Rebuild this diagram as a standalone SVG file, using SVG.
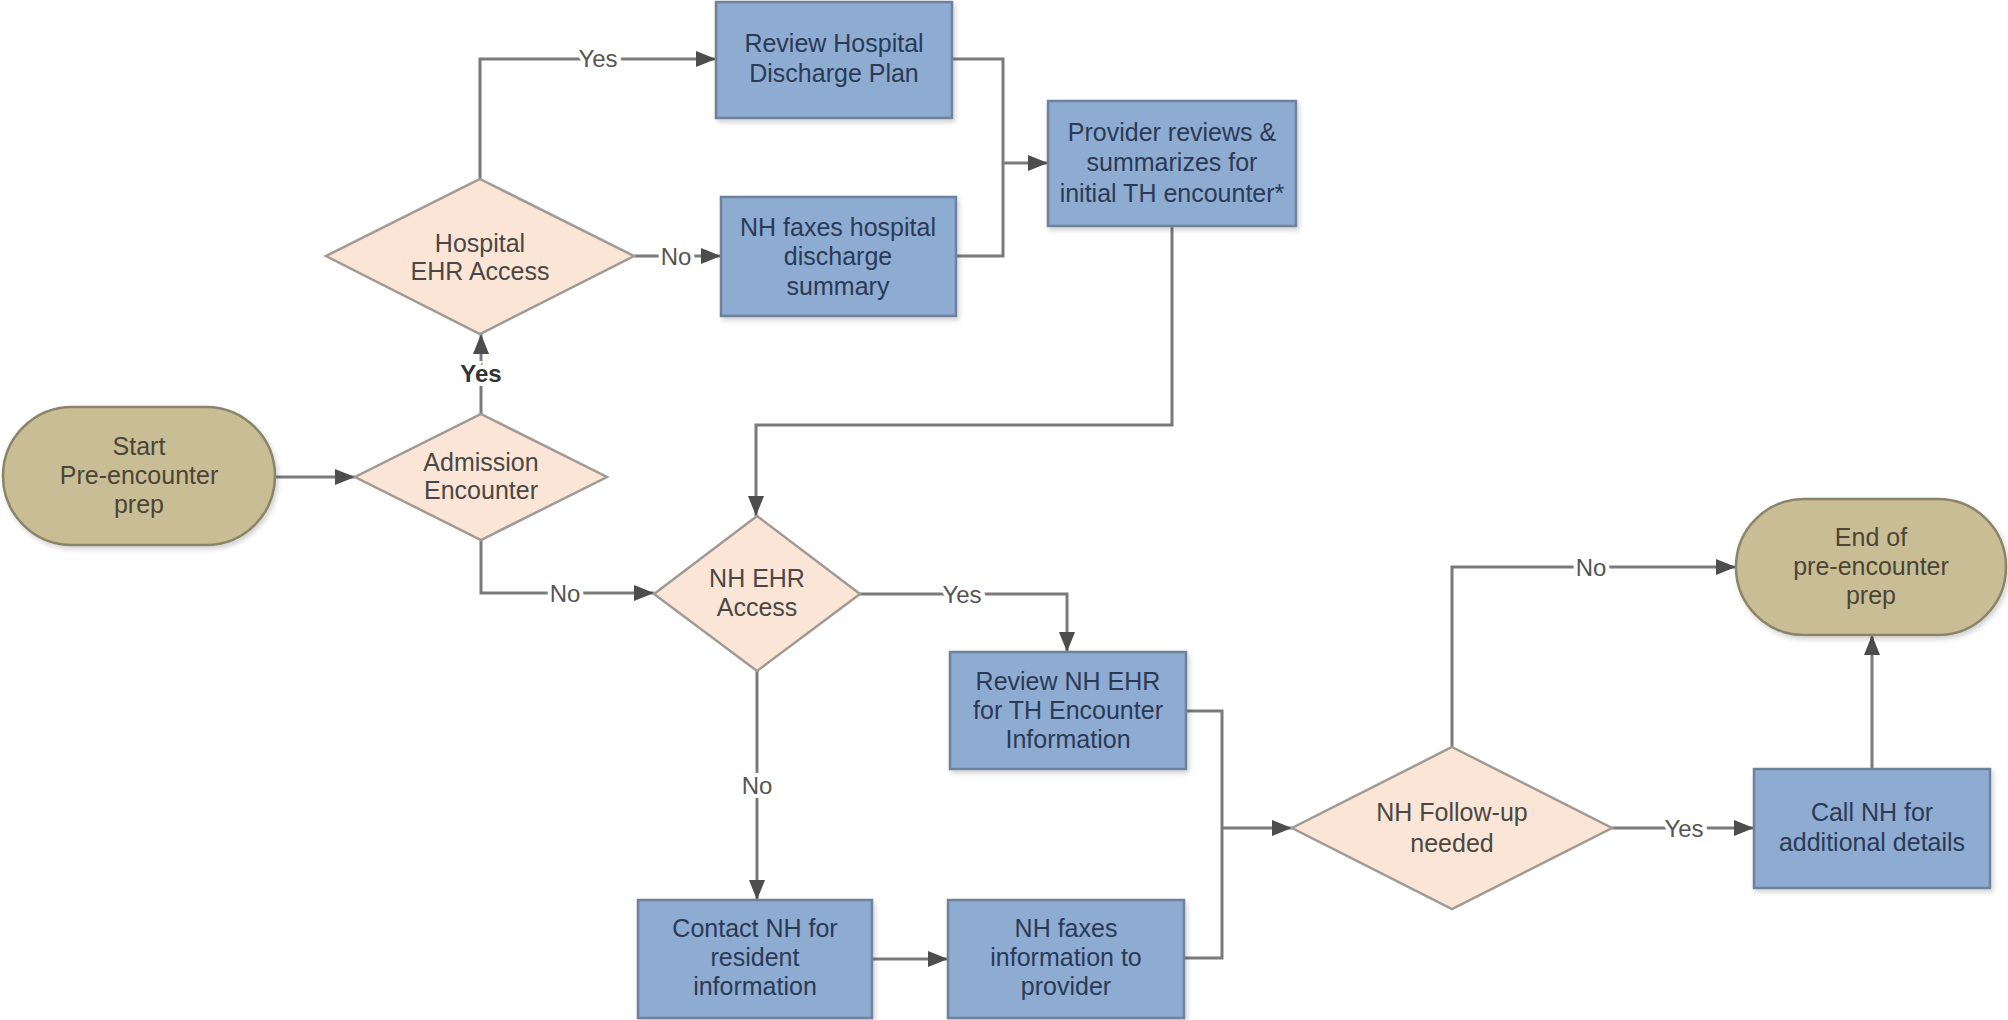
<svg xmlns="http://www.w3.org/2000/svg" width="2008" height="1020" viewBox="0 0 2008 1020">
<style>
  .box { fill: #8eabd2; stroke: #6f819b; stroke-width: 2.5; }
  .dia { fill: #fbe5d6; stroke: #a09a94; stroke-width: 2.5; }
  .pill { fill: #c9bd95; stroke: #8a8468; stroke-width: 2.5; }
  .t { font-family: "Liberation Sans", Arial, sans-serif; font-size: 25px; text-anchor: middle; }
  .bt { fill: #2b3a55; }
  .dt { fill: #4a4744; }
  .pt { fill: #4a4535; }
  .conn { fill: none; stroke: #7a7a7a; stroke-width: 3; }
  .lbl { font-family: "Liberation Sans", Arial, sans-serif; font-size: 24px; text-anchor: middle; fill: #555; stroke: #ffffff; stroke-width: 8; paint-order: stroke; }
  .bold { font-weight: bold; fill: #333; }
</style>
<defs>
  <marker id="arr" markerUnits="userSpaceOnUse" markerWidth="22" markerHeight="18" refX="20" refY="8" orient="auto">
    <path d="M0,0 L20,8 L0,16 Z" fill="#4d4d4d"/>
  </marker>
  <filter id="sh" x="-10%" y="-10%" width="130%" height="130%">
    <feDropShadow dx="2" dy="3" stdDeviation="2.5" flood-color="#000" flood-opacity="0.18"/>
  </filter>
</defs>
<rect width="2008" height="1020" fill="#ffffff"/>

<g id="connectors">
  <path class="conn" d="M275,477 H355" marker-end="url(#arr)"/>
  <path class="conn" d="M481,414 V334" marker-end="url(#arr)"/>
  <path class="conn" d="M480,179 V59 H716" marker-end="url(#arr)"/>
  <path class="conn" d="M634,256 H721" marker-end="url(#arr)"/>
  <path class="conn" d="M952,59 H1003 V256 H956"/>
  <path class="conn" d="M1003,163 H1048" marker-end="url(#arr)"/>
  <path class="conn" d="M1172,226 V425 H756 V516" marker-end="url(#arr)"/>
  <path class="conn" d="M481,540 V593 H654" marker-end="url(#arr)"/>
  <path class="conn" d="M860,594 H1067 V652" marker-end="url(#arr)"/>
  <path class="conn" d="M757,671 V900" marker-end="url(#arr)"/>
  <path class="conn" d="M872,959 H948" marker-end="url(#arr)"/>
  <path class="conn" d="M1186,711 H1222 V958 H1184"/>
  <path class="conn" d="M1222,828 H1292" marker-end="url(#arr)"/>
  <path class="conn" d="M1452,747 V567 H1736" marker-end="url(#arr)"/>
  <path class="conn" d="M1612,828 H1754" marker-end="url(#arr)"/>
  <path class="conn" d="M1872,769 V635" marker-end="url(#arr)"/>
  <text class="lbl bold" x="481" y="382">Yes</text>
  <text class="lbl" x="598" y="67">Yes</text>
  <text class="lbl" x="676" y="265">No</text>
  <text class="lbl" x="565" y="602">No</text>
  <text class="lbl" x="962" y="603">Yes</text>
  <text class="lbl" x="757" y="794">No</text>
  <text class="lbl" x="1591" y="576">No</text>
  <text class="lbl" x="1684" y="837">Yes</text>
</g>

<g id="start">
  <rect class="pill" x="3" y="407" width="272" height="138" rx="69" filter="url(#sh)"/>
  <text class="t pt" x="139" y="455">Start</text>
  <text class="t pt" x="139" y="484">Pre-encounter</text>
  <text class="t pt" x="139" y="513">prep</text>
</g>

<g id="admission">
  <polygon class="dia" points="481,414 607,477 481,540 355,477"/>
  <text class="t dt" x="481" y="471">Admission</text>
  <text class="t dt" x="481" y="499">Encounter</text>
</g>

<g id="hospital-ehr">
  <polygon class="dia" points="480,179 634,256 480,334 326,256"/>
  <text class="t dt" x="480" y="252">Hospital</text>
  <text class="t dt" x="480" y="280">EHR Access</text>
</g>

<g id="review-hospital">
  <rect class="box" x="716" y="2" width="236" height="116" filter="url(#sh)"/>
  <text class="t bt" x="834" y="52">Review Hospital</text>
  <text class="t bt" x="834" y="82">Discharge Plan</text>
</g>

<g id="nh-faxes-hospital">
  <rect class="box" x="721" y="197" width="235" height="119" filter="url(#sh)"/>
  <text class="t bt" x="838" y="236">NH faxes hospital</text>
  <text class="t bt" x="838" y="265">discharge</text>
  <text class="t bt" x="838" y="295">summary</text>
</g>

<g id="provider-reviews">
  <rect class="box" x="1048" y="101" width="248" height="125" filter="url(#sh)"/>
  <text class="t bt" x="1172" y="141">Provider reviews &amp;</text>
  <text class="t bt" x="1172" y="171">summarizes for</text>
  <text class="t bt" x="1172" y="202">initial TH encounter*</text>
</g>

<g id="nh-ehr">
  <polygon class="dia" points="757,516 860,594 757,671 654,594"/>
  <text class="t dt" x="757" y="587">NH EHR</text>
  <text class="t dt" x="757" y="616">Access</text>
</g>

<g id="review-nh-ehr">
  <rect class="box" x="950" y="652" width="236" height="117" filter="url(#sh)"/>
  <text class="t bt" x="1068" y="690">Review NH EHR</text>
  <text class="t bt" x="1068" y="719">for TH Encounter</text>
  <text class="t bt" x="1068" y="748">Information</text>
</g>

<g id="contact-nh">
  <rect class="box" x="638" y="900" width="234" height="118" filter="url(#sh)"/>
  <text class="t bt" x="755" y="937">Contact NH for</text>
  <text class="t bt" x="755" y="966">resident</text>
  <text class="t bt" x="755" y="995">information</text>
</g>

<g id="nh-faxes-info">
  <rect class="box" x="948" y="900" width="236" height="118" filter="url(#sh)"/>
  <text class="t bt" x="1066" y="937">NH faxes</text>
  <text class="t bt" x="1066" y="966">information to</text>
  <text class="t bt" x="1066" y="995">provider</text>
</g>

<g id="nh-followup">
  <polygon class="dia" points="1452,747 1612,828 1452,909 1292,828"/>
  <text class="t dt" x="1452" y="821">NH Follow-up</text>
  <text class="t dt" x="1452" y="852">needed</text>
</g>

<g id="call-nh">
  <rect class="box" x="1754" y="769" width="236" height="119" filter="url(#sh)"/>
  <text class="t bt" x="1872" y="821">Call NH for</text>
  <text class="t bt" x="1872" y="851">additional details</text>
</g>

<g id="end">
  <rect class="pill" x="1736" y="499" width="270" height="136" rx="68" filter="url(#sh)"/>
  <text class="t pt" x="1871" y="546">End of</text>
  <text class="t pt" x="1871" y="575">pre-encounter</text>
  <text class="t pt" x="1871" y="604">prep</text>
</g>
</svg>
